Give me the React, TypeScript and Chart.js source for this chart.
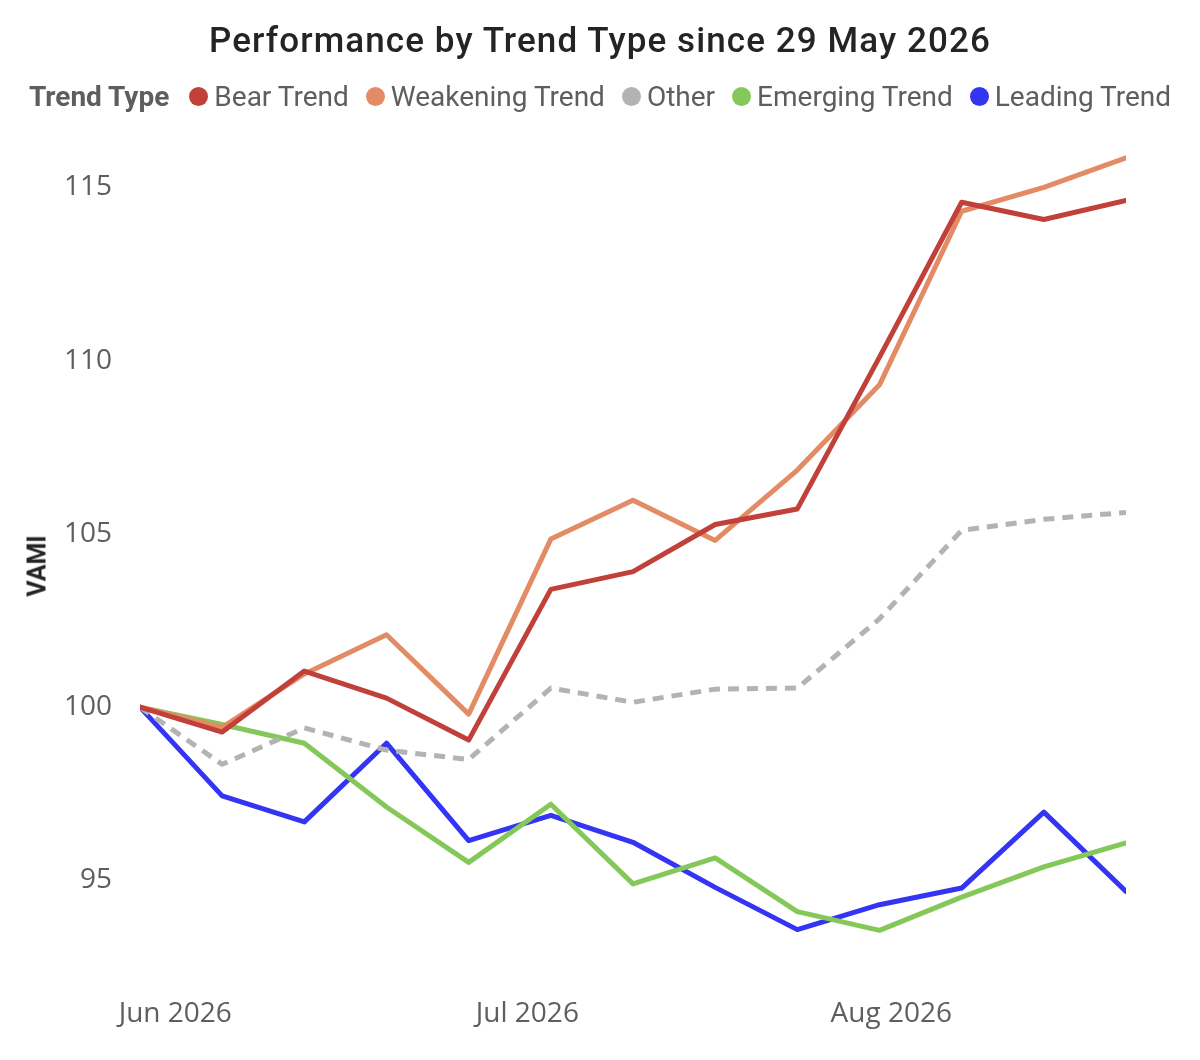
import React, { useEffect, useRef } from 'react';
import { Chart, registerables } from 'chart.js';

Chart.register(...registerables);

// weekly observation dates
const dates = [
  '2026-05-29', '2026-06-05', '2026-06-12', '2026-06-19', '2026-06-26',
  '2026-07-03', '2026-07-10', '2026-07-17', '2026-07-24', '2026-07-31',
  '2026-08-07', '2026-08-14', '2026-08-21',
];

const bearTrend = [100, 99.28, 101.04, 100.26, 99.05, 103.4, 103.91, 105.27, 105.72, 110.1, 114.57, 114.07, 114.62];
const weakeningTrend = [100, 99.42, 100.96, 102.09, 99.8, 104.85, 105.97, 104.81, 106.84, 109.3, 114.31, 115.0, 115.85];
const otherTrend = [100, 98.35, 99.4, 98.76, 98.49, 100.55, 100.14, 100.52, 100.55, 102.55, 105.1, 105.42, 105.62];
const emergingTrend = [100, 99.5, 98.96, 97.12, 95.52, 97.2, 94.9, 95.65, 94.1, 93.56, 94.52, 95.39, 96.08];
const leadingTrend = [100, 97.44, 96.69, 98.96, 96.15, 96.88, 96.1, 94.8, 93.58, 94.3, 94.78, 96.97, 94.68];

const monthTickDates = ['2026-06-01', '2026-07-01', '2026-08-01'];
const monthTickLabels = ['Jun 2026', 'Jul 2026', 'Aug 2026'];
const yTicks = [95, 100, 105, 110, 115];

const DAY = 86400000;
const dayIndex = (d: string) => Math.round((Date.parse(d + 'T00:00:00Z') - Date.parse(dates[0] + 'T00:00:00Z')) / DAY);

const seriesDefs = [
  { label: 'Bear Trend', data: bearTrend, color: '#C1403A', dash: [] as number[] },
  { label: 'Weakening Trend', data: weakeningTrend, color: '#E38B64', dash: [] as number[] },
  { label: 'Other', data: otherTrend, color: '#B3B3B3', dash: [11, 8] },
  { label: 'Emerging Trend', data: emergingTrend, color: '#85C85A', dash: [] as number[] },
  { label: 'Leading Trend', data: leadingTrend, color: '#3434F5', dash: [] as number[] },
];

const App: React.FC = () => {
  const canvasRef = useRef<HTMLCanvasElement>(null);

  useEffect(() => {
    document.body.style.margin = '0';
    if (!canvasRef.current) return;
    const xs = dates.map(dayIndex);
    const tickDays = monthTickDates.map(dayIndex);

    const chart = new Chart(canvasRef.current, {
      type: 'line',
      data: {
        datasets: seriesDefs.map((s) => ({
          label: s.label,
          data: s.data.map((v, i) => ({ x: xs[i], y: v })),
          borderColor: s.color,
          backgroundColor: s.color,
          borderWidth: 5,
          borderDash: s.dash,
          borderCapStyle: s.dash.length ? 'butt' : 'round',
          borderJoinStyle: 'round',
          pointRadius: 0,
          tension: 0,
        })),
      },
      options: {
        responsive: false,
        animation: false,
        layout: { padding: { top: 118, right: 74, bottom: 24, left: 0 } },
        plugins: {
          legend: { display: false },
          title: { display: false },
          tooltip: { enabled: false },
        },
        scales: {
          x: {
            type: 'linear',
            min: 0,
            max: xs[xs.length - 1],
            grid: { display: false },
            border: { display: false },
            afterBuildTicks: (scale) => {
              scale.ticks = tickDays.map((v) => ({ value: v }));
            },
            ticks: {
              padding: 5,
              maxRotation: 0,
              color: '#605E5C',
              font: { family: '"Open Sans", sans-serif', size: 28 },
              callback: (_v, i) => monthTickLabels[i],
            },
          },
          y: {
            min: 92,
            max: 117,
            grid: { display: false, drawTicks: false },
            border: { display: false },
            afterBuildTicks: (scale) => {
              scale.ticks = yTicks.map((v) => ({ value: v }));
            },
            afterFit: (scale) => {
              scale.width = 140;
            },
            ticks: {
              padding: 28,
              color: '#605E5C',
              font: { family: '"Open Sans", sans-serif', size: 28 },
            },
          },
        },
      },
    });

    return () => chart.destroy();
  }, []);

  return (
    <div style={{ position: 'relative', width: 1200, height: 1060, background: '#fff' }}>
      <canvas ref={canvasRef} width={1200} height={1060} style={{ position: 'absolute', left: 0, top: 0 }} />
      <div
        style={{
          position: 'absolute',
          top: 20,
          left: 0,
          width: 1200,
          textAlign: 'center',
          fontFamily: 'Roboto, sans-serif',
          fontWeight: 500,
          fontSize: 35,
          color: '#252423',
          letterSpacing: 1.1,
        }}
      >
        Performance by Trend Type since 29 May 2026
      </div>
      <div
        style={{
          position: 'absolute',
          top: 80,
          left: 0,
          width: 1200,
          display: 'flex',
          justifyContent: 'center',
          alignItems: 'center',
          fontFamily: 'Roboto, sans-serif',
          fontSize: 28,
          color: '#605E5C',
          whiteSpace: 'nowrap',
        }}
      >
        <span style={{ fontWeight: 'bold', marginRight: 20 }}>Trend Type</span>
        {seriesDefs.map((s, i) => (
          <span
            key={s.label}
            style={{ display: 'flex', alignItems: 'center', marginRight: i === seriesDefs.length - 1 ? 0 : 17 }}
          >
            <span
              style={{
                display: 'inline-block',
                width: 19,
                height: 19,
                borderRadius: '50%',
                background: s.color,
                marginRight: 6,
              }}
            />
            {s.label}
          </span>
        ))}
      </div>
      <div
        style={{
          position: 'absolute',
          left: 37,
          top: 566,
          transform: 'translate(-50%, -50%) rotate(-90deg)',
          fontFamily: 'Roboto, sans-serif',
          fontWeight: 'bold',
          fontSize: 25,
          color: '#252423',
          whiteSpace: 'nowrap',
        }}
      >
        VAMI
      </div>
    </div>
  );
};

export default App;
